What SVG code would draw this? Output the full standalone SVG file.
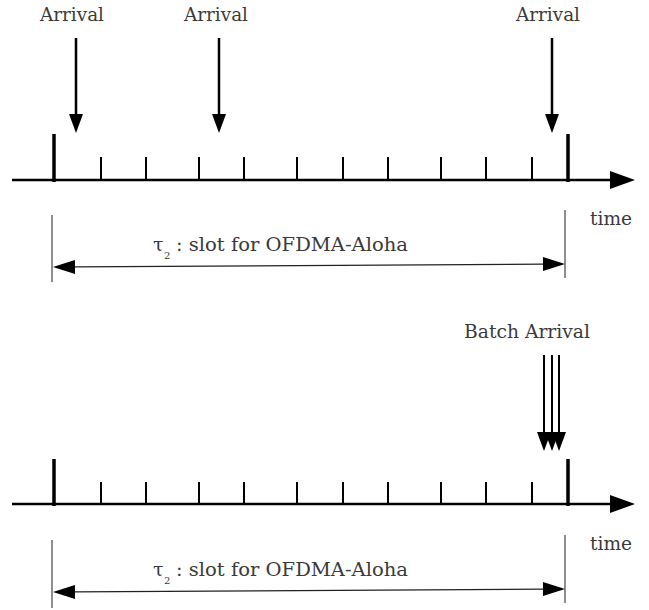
<svg xmlns="http://www.w3.org/2000/svg" width="649" height="610" viewBox="0 0 649 610">
  <style>
    text { font-family: 'DejaVu Serif', 'Liberation Serif', serif; fill: #3a3a3a; }
    .lbl { font-size: 19px; }
    .sub { font-size: 10px; }
    .axis { stroke: #000; stroke-width: 2.5; fill: none; }
    .major { stroke: #000; stroke-width: 3.5; }
    .minor { stroke: #000; stroke-width: 2; }
    .arr { stroke: #000; stroke-width: 2.5; fill: none; }
    .batch { stroke: #000; stroke-width: 2; fill: none; }
    .dim { stroke: #222; stroke-width: 1.3; fill: none; }
    .guide { stroke: #333; stroke-width: 1.1; }
  </style>
  <defs>
    <marker id="axisHead" markerUnits="userSpaceOnUse" markerWidth="26" markerHeight="20" refX="0" refY="10" orient="auto" overflow="visible">
      <path d="M0,1 L25,10 L0,19 z" fill="#000"/>
    </marker>
    <marker id="dropHead" markerUnits="userSpaceOnUse" markerWidth="20" markerHeight="16" refX="0" refY="8" orient="auto" overflow="visible">
      <path d="M0,1 L19,8 L0,15 z" fill="#000"/>
    </marker>
    <marker id="dimHead" markerUnits="userSpaceOnUse" markerWidth="23" markerHeight="16" refX="0" refY="8" orient="auto-start-reverse" overflow="visible">
      <path d="M0,1 L22,8 L0,15 z" fill="#000"/>
    </marker>
  </defs>

  <!-- upper timeline: single arrivals -->
  <g id="timeline-top">
    <line class="axis" x1="12" y1="180" x2="610" y2="180" marker-end="url(#axisHead)"/>
    <line class="major" x1="54" y1="134" x2="54" y2="182"/>
    <line class="major" x1="568" y1="134" x2="568" y2="182"/>
    <g class="minor">
      <line x1="101" y1="157" x2="101" y2="180"/>
      <line x1="146" y1="157" x2="146" y2="180"/>
      <line x1="199" y1="157" x2="199" y2="180"/>
      <line x1="244" y1="157" x2="244" y2="180"/>
      <line x1="297" y1="157" x2="297" y2="180"/>
      <line x1="343" y1="157" x2="343" y2="180"/>
      <line x1="388" y1="157" x2="388" y2="180"/>
      <line x1="441" y1="157" x2="441" y2="180"/>
      <line x1="486" y1="157" x2="486" y2="180"/>
      <line x1="532" y1="157" x2="532" y2="180"/>
    </g>
    <text class="lbl" x="611" y="225" text-anchor="middle" textLength="42" lengthAdjust="spacingAndGlyphs">time</text>
  </g>

  <g id="arrival-1">
    <text class="lbl" x="72" y="21" text-anchor="middle" textLength="64" lengthAdjust="spacingAndGlyphs">Arrival</text>
  </g>
  <g id="arrival-2">
    <text class="lbl" x="216" y="21" text-anchor="middle" textLength="64" lengthAdjust="spacingAndGlyphs">Arrival</text>
  </g>
  <g id="arrival-3">
    <text class="lbl" x="548" y="21" text-anchor="middle" textLength="64" lengthAdjust="spacingAndGlyphs">Arrival</text>
  </g>

  <g id="slot-top">
    <line class="guide" x1="52" y1="215" x2="52" y2="282"/>
    <line class="guide" x1="565" y1="210" x2="565" y2="278"/>
    <text class="lbl" x="153" y="251">τ</text>
    <text class="sub" x="164" y="259">2</text>
    <text class="lbl" x="176" y="251" textLength="232" lengthAdjust="spacingAndGlyphs">: slot for OFDMA-Aloha</text>
  </g>

  <!-- lower timeline: batch arrival -->
  <g id="timeline-bottom">
    <line class="axis" x1="12" y1="504" x2="610" y2="504" marker-end="url(#axisHead)"/>
    <line class="major" x1="54" y1="459" x2="54" y2="506"/>
    <line class="major" x1="568" y1="459" x2="568" y2="506"/>
    <g class="minor">
      <line x1="101" y1="482" x2="101" y2="504"/>
      <line x1="146" y1="482" x2="146" y2="504"/>
      <line x1="199" y1="482" x2="199" y2="504"/>
      <line x1="244" y1="482" x2="244" y2="504"/>
      <line x1="297" y1="482" x2="297" y2="504"/>
      <line x1="343" y1="482" x2="343" y2="504"/>
      <line x1="388" y1="482" x2="388" y2="504"/>
      <line x1="441" y1="482" x2="441" y2="504"/>
      <line x1="486" y1="482" x2="486" y2="504"/>
      <line x1="532" y1="482" x2="532" y2="504"/>
    </g>
    <text class="lbl" x="611" y="550" text-anchor="middle" textLength="42" lengthAdjust="spacingAndGlyphs">time</text>
  </g>

  <g id="batch-arrival">
    <text class="lbl" x="527" y="338" text-anchor="middle" textLength="126" lengthAdjust="spacingAndGlyphs">Batch Arrival</text>
  </g>

  <g id="slot-bottom">
    <line class="guide" x1="52" y1="540" x2="52" y2="608"/>
    <line class="guide" x1="565" y1="535" x2="565" y2="603"/>
    <text class="lbl" x="153" y="576">τ</text>
    <text class="sub" x="164" y="584">2</text>
    <text class="lbl" x="176" y="576" textLength="232" lengthAdjust="spacingAndGlyphs">: slot for OFDMA-Aloha</text>
  </g>

  <!-- connectors -->
  <g id="connectors">
    <line class="arr" x1="76" y1="38" x2="76" y2="114" marker-end="url(#dropHead)"/>
    <line class="arr" x1="219" y1="38" x2="219" y2="114" marker-end="url(#dropHead)"/>
    <line class="arr" x1="552" y1="38" x2="552" y2="114" marker-end="url(#dropHead)"/>
    <line class="batch" x1="544" y1="355" x2="544" y2="432" marker-end="url(#dropHead)"/>
    <line class="batch" x1="552" y1="355" x2="552" y2="432" marker-end="url(#dropHead)"/>
    <line class="batch" x1="559" y1="355" x2="559" y2="432" marker-end="url(#dropHead)"/>
    <line class="dim" x1="75" y1="266.9" x2="543" y2="264.1" marker-start="url(#dimHead)" marker-end="url(#dimHead)"/>
    <line class="dim" x1="75" y1="591.9" x2="543" y2="589.1" marker-start="url(#dimHead)" marker-end="url(#dimHead)"/>
  </g>
</svg>
